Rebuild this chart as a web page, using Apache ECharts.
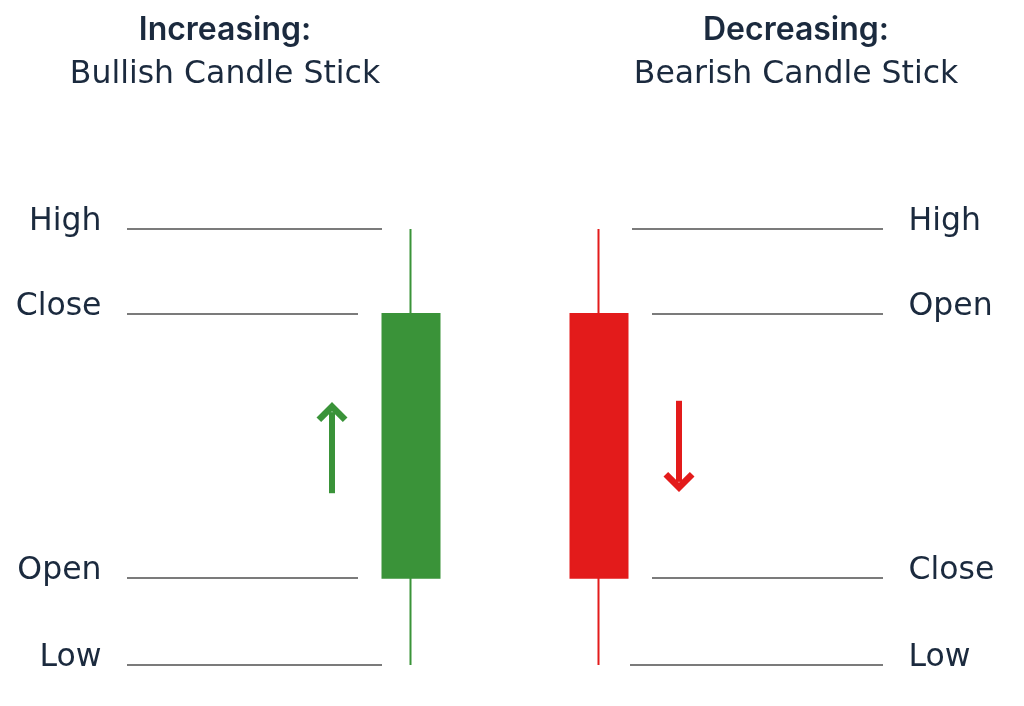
<!DOCTYPE html>
<html><head><meta charset="utf-8">
<script src="https://cdn.jsdelivr.net/npm/echarts@6/dist/echarts.min.js"></script>
<style>html,body{margin:0;padding:0;background:#fff}#c{width:1024px;height:706px}</style>
</head><body><div id="c"></div>
<script>
// Candles: [x position, open, close, low, high]
const candleNames = ['Bullish', 'Bearish'];
const candleX = [411, 599];
const candleOpen = [20, 80.5];
const candleClose = [80.5, 20];
const candleLow = [0, 0];
const candleHigh = [100, 100];

// Reference level lines
const leftLevelNames = ['High', 'Close', 'Open', 'Low'];
const leftLevelValues = [100, 80.5, 20, 0];
const leftLevelStart = [127, 127, 127, 127];
const leftLevelEnd = [382, 358, 358, 382];

const rightLevelNames = ['High', 'Open', 'Close', 'Low'];
const rightLevelValues = [100, 80.5, 20, 0];
const rightLevelStart = [632, 652, 652, 630];
const rightLevelEnd = [883, 883, 883, 883];

// Direction arrows
const arrowX = [332, 679];
const arrowFrom = [39.4, 60.6];
const arrowTo = [58.0, 42.0];

const titleHeads = ['Increasing:', 'Decreasing:'];
const titleSubs = ['Bullish Candle Stick', 'Bearish Candle Stick'];

const TEXT = '#1b2a3e';
const GREEN = '#3a9339';
const RED = '#e31b1b';
const GRAY = '#7b7b7b';
const FONT = 'DejaVu Sans';
const chevron = 'path://M0,15 L15,0 L30,15 L25.5,19.5 L15,9 L4.5,19.5 Z';

function levelLines(names, values, starts, ends) {
  return {
    type: 'line', data: [], silent: true,
    markLine: {
      silent: true, animation: false, symbol: ['none', 'none'],
      lineStyle: { color: GRAY, width: 2, type: 'solid' },
      emphasis: { disabled: true },
      label: { show: false },
      data: names.map((n, i) => [
        { name: n, coord: [starts[i], values[i]] },
        { coord: [ends[i], values[i]] }
      ])
    }
  };
}

function levelLabels(names, values, xs, pos) {
  return {
    type: 'scatter', silent: true, symbolSize: 1,
    itemStyle: { color: 'rgba(255,255,255,0)' },
    label: {
      show: true, position: pos, formatter: '{b}', distance: 25, offset: [0, -7],
      color: TEXT, fontSize: 31.5, fontFamily: FONT, opacity: 1
    },
    emphasis: { disabled: true },
    data: names.map((n, i) => ({ name: n, value: [xs[i], values[i]] }))
  };
}

function arrow(i, color) {
  return {
    type: 'line', data: [], silent: true,
    markLine: {
      silent: true, animation: false, symbol: ['none', chevron], symbolSize: [31, 20],
      lineStyle: { color: color, width: 6, type: 'solid' },
      label: { show: false },
      emphasis: { disabled: true },
      data: [[{ coord: [arrowX[i], arrowFrom[i]] }, { coord: [arrowX[i], arrowTo[i]] }]]
    }
  };
}

const chart = echarts.init(document.getElementById('c'), null, { renderer: 'canvas' });
chart.setOption({
  animation: false,
  backgroundColor: '#fff',
  tooltip: { show: false },
  title: titleHeads.map((t, i) => ({
    text: t, subtext: titleSubs[i],
    left: i === 0 ? 225 : 796, top: 12, textAlign: 'center', padding: 0, itemGap: 9,
    textStyle: { color: TEXT, fontSize: 32, fontWeight: 600, fontFamily: 'Inter', lineHeight: 36 },
    subtextStyle: { color: TEXT, fontSize: 31.5, fontWeight: 400, fontFamily: FONT, lineHeight: 36 }
  })),
  grid: { left: 0, right: 0, top: 229, bottom: 41 },
  xAxis: { type: 'value', min: 0, max: 1024, show: false },
  yAxis: { type: 'value', min: 0, max: 100, show: false },
  series: [
    {
      type: 'candlestick', name: 'candles', barWidth: 58,
      itemStyle: { color: GREEN, color0: RED, borderColor: GREEN, borderColor0: RED, borderWidth: 2 },
      data: candleX.map((x, i) => [x, candleOpen[i], candleClose[i], candleLow[i], candleHigh[i]])
    },
    levelLines(leftLevelNames, leftLevelValues, leftLevelStart, leftLevelEnd),
    levelLines(rightLevelNames, rightLevelValues, rightLevelStart, rightLevelEnd),
    levelLabels(leftLevelNames, leftLevelValues, leftLevelStart, 'left'),
    levelLabels(rightLevelNames, rightLevelValues, rightLevelEnd, 'right'),
    arrow(0, GREEN),
    arrow(1, RED)
  ]
});
</script>
</body></html>
